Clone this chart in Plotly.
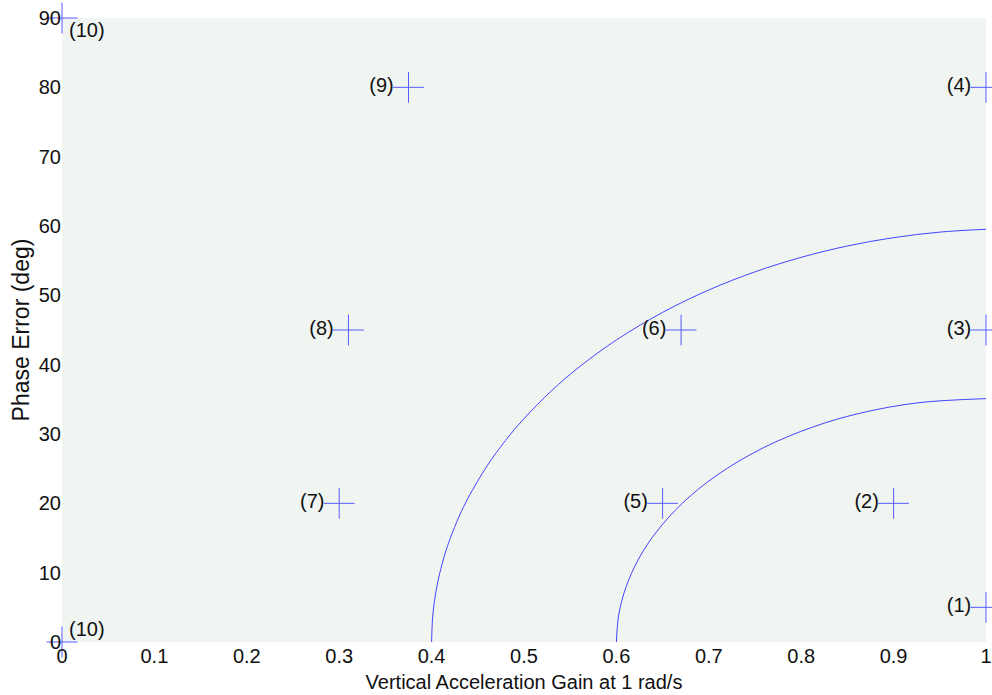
import plotly.graph_objects as go

# Test points
pt_labels = ["(1)", "(2)", "(3)", "(4)", "(5)", "(6)", "(7)", "(8)", "(9)", "(10)", "(10)"]
pt_gain = [1.0, 0.9, 1.0, 1.0, 0.65, 0.67, 0.30, 0.31, 0.375, 0.0, 0.0]
pt_phase = [5, 20, 45, 80, 20, 45, 20, 45, 80, 90, 0]

# Boundary curves
outer_gain = [0.400, 0.401, 0.403, 0.406, 0.410, 0.415, 0.420, 0.430, 0.440, 0.460, 0.480, 0.500,
              0.530, 0.560, 0.600, 0.650, 0.700, 0.750, 0.800, 0.850, 0.900, 0.950, 1.000]
outer_phase = [0.0, 3.36, 5.81, 8.20, 10.58, 12.93, 14.90, 18.17, 20.90, 25.39, 29.07, 32.22,
               36.26, 39.69, 43.56, 47.54, 50.77, 53.39, 55.48, 57.12, 58.32, 59.12, 59.53]
inner_gain = [0.600, 0.6026, 0.6106, 0.6241, 0.6440, 0.6713, 0.7081, 0.7588, 0.8124, 0.8637, 0.9263, 1.000]
inner_phase = [0.0, 4.0, 8.0, 12.0, 16.0, 20.0, 24.0, 28.0, 31.0, 33.0, 34.5, 35.1]

FONT = "Liberation Sans"
fig = go.Figure()
for gx, py in [(outer_gain, outer_phase), (inner_gain, inner_phase)]:
    fig.add_trace(go.Scatter(x=gx, y=py, mode="lines",
                             line=dict(color="#4444ff", width=1, shape="spline", smoothing=1.0),
                             hoverinfo="skip", showlegend=False))

n_main = 9
fig.add_trace(go.Scatter(x=pt_gain[:n_main], y=pt_phase[:n_main], mode="markers+text",
                         text=pt_labels[:n_main], textposition="middle left",
                         textfont=dict(family=FONT, size=20, color="#111111"),
                         marker=dict(symbol="cross-thin", size=22,
                                     line=dict(color="#5a5aff", width=1)),
                         cliponaxis=False, showlegend=False))
fig.add_trace(go.Scatter(x=pt_gain[n_main:], y=pt_phase[n_main:], mode="markers",
                         marker=dict(symbol="cross-thin", size=22,
                                     line=dict(color="#5a5aff", width=1)),
                         cliponaxis=False, showlegend=False))
fig.add_annotation(x=pt_gain[9], y=pt_phase[9], text=pt_labels[9], showarrow=False,
                   xanchor="left", yanchor="top", xshift=5, yshift=1,
                   font=dict(family=FONT, size=20, color="#111111"))
fig.add_annotation(x=pt_gain[10], y=pt_phase[10], text=pt_labels[10], showarrow=False,
                   xanchor="left", yanchor="bottom", xshift=5, yshift=0,
                   font=dict(family=FONT, size=20, color="#111111"))

fig.update_layout(
    width=992, height=695,
    margin=dict(l=62, r=6, t=18, b=53),
    paper_bgcolor="white", plot_bgcolor="#f0f5f2",
    font=dict(family=FONT, size=20, color="#111111"),
    showlegend=False,
)
fig.update_xaxes(range=[0, 1], tickvals=[0, 0.1, 0.2, 0.3, 0.4, 0.5, 0.6, 0.7, 0.8, 0.9, 1],
                 ticktext=["0", "0.1", "0.2", "0.3", "0.4", "0.5", "0.6", "0.7", "0.8", "0.9", "1"],
                 showgrid=False, zeroline=False, showline=False, ticks="", automargin=False,
                 tickfont=dict(size=20), ticklabeloverflow="allow",
                 title=dict(text="Vertical Acceleration Gain at 1 rad/s", font=dict(size=20), standoff=8))
fig.update_yaxes(range=[0, 90], tickvals=[0, 10, 20, 30, 40, 50, 60, 70, 80, 90],
                 showgrid=False, zeroline=False, showline=False, ticks="", automargin=False,
                 tickfont=dict(size=20), ticklabeloverflow="allow",
                 title=dict(text="Phase Error (deg)", font=dict(size=23), standoff=2))

# remove the browser's default 8px page margin so the 992x695 figure fills the window
fig.write_html("out.html", config={"displayModeBar": False},
               post_script="document.body.style.margin='0';document.body.style.overflow='hidden';")
